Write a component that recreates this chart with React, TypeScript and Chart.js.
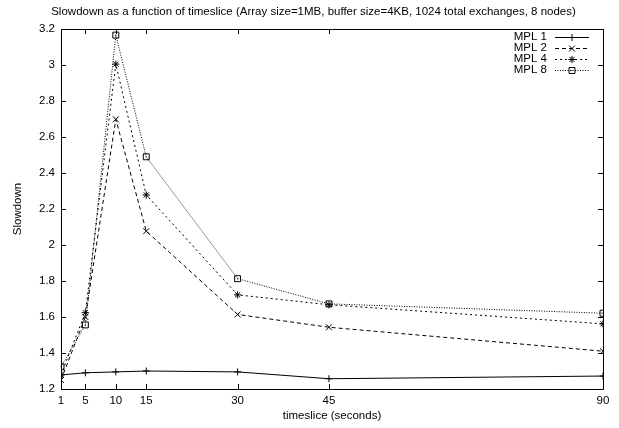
import React, { useEffect, useRef } from "react";
import { Chart, registerables } from "chart.js";

Chart.register(...registerables);

const chartTitle = "Slowdown as a function of timeslice (Array size=1MB, buffer size=4KB, 1024 total exchanges, 8 nodes)";
const timeslices = [1, 5, 10, 15, 30, 45, 90];
const yTicks = [1.2, 1.4, 1.6, 1.8, 2, 2.2, 2.4, 2.6, 2.8, 3, 3.2];
const seriesNames = ["MPL 1", "MPL 2", "MPL 4", "MPL 8"];
const mpl1 = [1.278, 1.29, 1.295, 1.3, 1.295, 1.257, 1.272];
const mpl2 = [1.25, 1.6, 2.698, 2.077, 1.614, 1.543, 1.41];
const mpl4 = [1.28, 1.624, 3.005, 2.278, 1.723, 1.668, 1.562];
const mpl8 = [1.323, 1.556, 3.166, 2.49, 1.813, 1.673, 1.621];

const FONT = "'Liberation Sans', Arial, Helvetica, sans-serif";
const FS = 11.5;

const seriesStyles = [
  { dash: [] as number[], pointStyle: "cross", radius: 3.5 },
  { dash: [4, 3], pointStyle: "crossRot", radius: 4.2 },
  { dash: [2, 3], pointStyle: "star", radius: 3.6 },
  { dash: [1, 1.5], pointStyle: "rect", radius: 4.2 },
];

function drawMarker(ctx: CanvasRenderingContext2D, style: string, r: number, x: number, y: number) {
  ctx.save();
  ctx.setLineDash([]);
  ctx.lineWidth = 1;
  ctx.strokeStyle = "#000";
  ctx.beginPath();
  if (style === "cross" || style === "star") {
    ctx.moveTo(x - r, y);
    ctx.lineTo(x + r, y);
    ctx.moveTo(x, y - r);
    ctx.lineTo(x, y + r);
  }
  if (style === "crossRot" || style === "star") {
    const o = r * Math.SQRT1_2;
    ctx.moveTo(x - o, y - o);
    ctx.lineTo(x + o, y + o);
    ctx.moveTo(x - o, y + o);
    ctx.lineTo(x + o, y - o);
  }
  if (style === "rect") {
    const s = r * Math.SQRT1_2;
    ctx.rect(x - s, y - s, 2 * s, 2 * s);
  }
  ctx.stroke();
  if (style === "rect") {
    ctx.fillStyle = "#000";
    ctx.fillRect(x - 0.5, y - 0.5, 1, 1);
  }
  ctx.restore();
}

const framePlugin = {
  id: "gnuplotFrame",
  beforeDatasetsDraw(chart: any) {
    const { ctx, chartArea } = chart;
    const { left, right, top, bottom } = chartArea;
    const xs = chart.scales.x;
    const ys = chart.scales.y;
    const tl = 5;
    ctx.save();
    ctx.strokeStyle = "#000";
    ctx.lineWidth = 1;
    ctx.beginPath();
    ctx.rect(Math.round(left) + 0.5, Math.round(top) + 0.5, Math.round(right - left), Math.round(bottom - top));
    timeslices.forEach((v) => {
      const px = Math.round(xs.getPixelForValue(v)) + 0.5;
      ctx.moveTo(px, bottom);
      ctx.lineTo(px, bottom - tl);
      ctx.moveTo(px, top);
      ctx.lineTo(px, top + tl);
    });
    yTicks.forEach((v) => {
      const py = Math.round(ys.getPixelForValue(v)) + 0.5;
      ctx.moveTo(left, py);
      ctx.lineTo(left + tl, py);
      ctx.moveTo(right, py);
      ctx.lineTo(right - tl, py);
    });
    ctx.stroke();
    ctx.restore();
  },
  afterDatasetsDraw(chart: any) {
    const { ctx, chartArea } = chart;
    ctx.save();
    // title
    ctx.font = `${FS}px ${FONT}`;
    ctx.fillStyle = "#000";
    ctx.textAlign = "center";
    ctx.textBaseline = "middle";
    ctx.fillText(chartTitle, 313.5, 12);
    // center dots of square markers
    const meta = chart.getDatasetMeta(3);
    meta.data.forEach((pt: any) => {
      ctx.fillRect(pt.x - 0.5, pt.y - 0.5, 1, 1);
    });
    // legend
    const textRight = chartArea.right - 56;
    const lineStart = chartArea.right - 48;
    const lineEnd = chartArea.right - 14;
    const rowTop = chartArea.top + 8;
    ctx.textAlign = "right";
    seriesNames.forEach((name, i) => {
      const y = rowTop + i * 11;
      ctx.fillStyle = "#000";
      ctx.fillText(name, textRight, y);
      const st = seriesStyles[i];
      ctx.save();
      ctx.strokeStyle = "#000";
      ctx.lineWidth = 1;
      ctx.setLineDash(st.dash);
      ctx.beginPath();
      ctx.moveTo(lineStart, Math.round(y) + 0.5);
      ctx.lineTo(lineEnd, Math.round(y) + 0.5);
      ctx.stroke();
      ctx.restore();
      drawMarker(ctx, st.pointStyle, st.radius, (lineStart + lineEnd) / 2, Math.round(y) + 0.5);
    });
    ctx.restore();
  },
};

export default function App() {
  const canvasRef = useRef<HTMLCanvasElement | null>(null);

  useEffect(() => {
    const canvas = canvasRef.current;
    if (!canvas) return;
    const seriesData = [mpl1, mpl2, mpl4, mpl8];
    const chart = new Chart(canvas, {
      type: "line",
      data: {
        datasets: seriesNames.map((name, i) => ({
          label: name,
          data: timeslices.map((t, j) => ({ x: t, y: seriesData[i][j] })),
          borderColor: "#000",
          backgroundColor: "rgba(0,0,0,0)",
          borderWidth: 1,
          borderDash: seriesStyles[i].dash,
          pointStyle: seriesStyles[i].pointStyle as any,
          pointRadius: seriesStyles[i].radius,
          pointBorderColor: "#000",
          pointBackgroundColor: "rgba(0,0,0,0)",
          pointBorderWidth: 1,
          tension: 0,
          fill: false,
        })),
      },
      options: {
        responsive: false,
        animation: false,
        layout: { padding: { left: 0, right: 16, top: 29, bottom: 0 } },
        plugins: {
          legend: { display: false },
          tooltip: { enabled: false },
          title: { display: false },
        },
        scales: {
          x: {
            type: "linear",
            min: 1,
            max: 90,
            afterBuildTicks: (scale: any) => {
              scale.ticks = timeslices.map((v) => ({ value: v }));
            },
            afterFit: (scale: any) => {
              scale.height = 39;
            },
            grid: { display: false, drawTicks: false },
            border: { display: false },
            ticks: {
              color: "#000",
              font: { family: FONT, size: FS },
              padding: 5,
              maxRotation: 0,
              autoSkip: false,
              callback: (v: any) => String(v),
            },
            title: {
              display: true,
              text: "timeslice (seconds)",
              color: "#000",
              font: { family: FONT, size: FS },
              padding: { top: 0, bottom: 5 },
            },
          },
          y: {
            type: "linear",
            min: 1.2,
            max: 3.2,
            afterBuildTicks: (scale: any) => {
              scale.ticks = yTicks.map((v) => ({ value: v }));
            },
            afterFit: (scale: any) => {
              scale.width = 61;
            },
            grid: { display: false, drawTicks: false },
            border: { display: false },
            ticks: {
              color: "#000",
              font: { family: FONT, size: FS },
              padding: 6,
              autoSkip: false,
              callback: (v: any) => String(Math.round(Number(v) * 10) / 10),
            },
            title: {
              display: true,
              text: "Slowdown",
              color: "#000",
              font: { family: FONT, size: FS },
              padding: { top: 11, bottom: 0 },
            },
          },
        },
      },
      plugins: [framePlugin],
    });
    return () => chart.destroy();
  }, []);

  return (
    <div style={{ position: "fixed", left: 0, top: 0, width: 619, height: 428, background: "#fff" }}>
      <canvas ref={canvasRef} width={619} height={428} style={{ width: 619, height: 428 }} />
    </div>
  );
}
